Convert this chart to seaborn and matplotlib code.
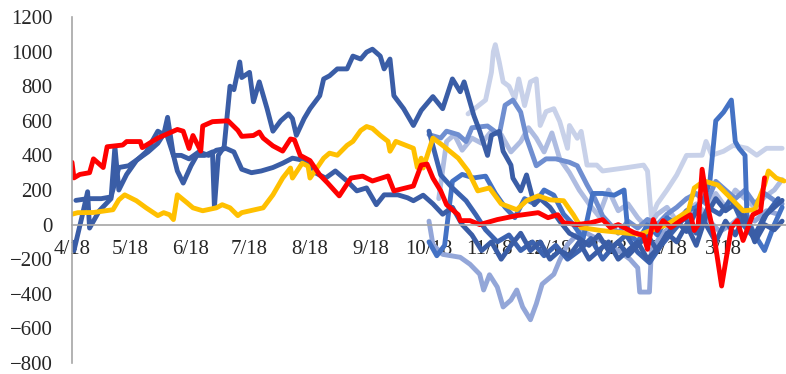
import matplotlib
matplotlib.use("Agg")
import matplotlib.pyplot as plt
import seaborn as sns
import pandas as pd

# x = days after 4/18, y = spread value
tick_days = [0, 30, 61, 91, 122, 153, 183, 214, 244, 275, 306, 334]
tick_labels = ["4/18", "5/18", "6/18", "7/18", "8/18", "9/18",
               "10/18", "11/18", "12/18", "1/18", "2/18", "3/18"]

g_days = [203, 212, 215, 216, 217, 219, 221, 224, 227, 229, 232, 235, 238, 240, 243, 247, 250,
          254, 255, 259, 261, 264, 269, 272, 283, 293, 295, 297, 300, 305, 310, 315, 323, 325,
          328, 334, 339, 346, 351, 356, 364]
g_vals = [640, 720, 880, 1000, 1040, 940, 825, 800, 728, 842, 688, 825, 842, 573, 653, 670, 596,
          441, 573, 499, 539, 344, 344, 310, 327, 344, 310, 40, 120, 200, 287, 400, 401, 481,
          401, 424, 458, 441, 401, 441, 441]

h_days = [188, 192, 196, 200, 205, 210, 215, 220, 225, 230, 234, 238, 242, 246, 250, 255, 260,
          265, 270, 275, 280, 285, 290, 295, 300, 305, 310, 315, 320, 325, 330, 335, 340, 345,
          350, 355, 360, 364]
h_vals = [150, 480, 520, 430, 500, 470, 540, 520, 420, 480, 560, 500, 420, 530, 380, 300, 200,
          120, 50, 200, 80, 120, 40, -20, 60, 100, 20, 80, 120, 60, 180, 100, 200, 150,
          100, 160, 200, 260]

f_days = [183, 185, 190, 199, 204, 209, 211, 214, 218, 221, 225, 228, 231, 235, 238, 241, 247,
          250, 254, 261, 271, 280, 286, 290, 291, 296, 297, 302, 308, 314, 320, 326, 332, 338,
          344, 350, 356, 362]
f_vals = [20, -115, -172, -189, -229, -287, -378, -290, -361, -476, -436, -378, -476, -550, -458,
          -344, -287, -206, -115, -34, -92, -150, -200, -250, -390, -390, -150, -60, 0, 40, 80,
          30, -40, 0, 60, 20, 80, 60]

e_days = [183, 189, 192, 198, 202, 205, 213, 219, 222, 226, 230, 233, 238, 243, 248, 255, 259,
          264, 268, 272, 276, 280, 285, 290, 295, 300, 305, 310, 315, 320, 325, 330, 335, 340,
          345, 350, 355, 360, 364]
e_vals = [520, 500, 540, 520, 480, 560, 570, 520, 690, 720, 650, 500, 340, 380, 380, 360, 340,
          230, 150, 50, 0, -50, 20, -20, 30, 0, 60, 100, 150, 180, 120, 250, 200, 150,
          200, 120, 180, 140, 120]

d_days = [183, 187, 191, 195, 200, 206, 212, 217, 222, 227, 232, 237, 242, 247, 252, 257, 262,
          267, 272, 278, 283, 285, 290, 295, 300, 305, 310, 315, 320, 324, 327, 330, 334, 338,
          340, 342, 345, 346, 350, 355, 360, 364]
d_vals = [-100, -180, -120, 250, 290, 270, 280, 180, 100, 40, 150, 120, 200, 170, 60, 0, -80,
          180, 180, 170, 200, -50, -100, 0, -60, 40, 0, 80, 100, 150, 250, 600, 650, 720,
          480, 440, 400, 40, -60, -150, 0, 100]

c_days = [183, 189, 195, 202, 207, 212, 218, 224, 230, 236, 242, 248, 254, 260, 266, 272, 278,
          284, 290, 296, 302, 308, 314, 320, 326, 332, 338, 344, 350, 356, 362]
c_vals = [540, 287, 212, 138, 57, -30, -100, -60, -150, -100, -180, -120, -200, -150, -80, -200,
          -120, -60, -160, -220, -120, -40, 40, -50, 100, 60, 150, 0, -80, 60, 150]

b_days = [2, 8, 15, 20, 24, 29, 34, 39, 44, 48, 52, 56, 60, 65, 70, 74, 79, 83, 87, 92, 97,
          103, 108, 113, 121, 125, 130, 135, 141, 146, 151, 156, 160, 167, 172, 175, 180, 185,
          190, 195, 200, 205, 210, 215, 220, 225, 230, 235, 240, 245, 250, 255, 260, 265, 270,
          275, 280, 285, 290, 295, 300, 305, 310, 315, 320, 325, 330, 335, 340, 345, 350, 355,
          360, 364]
b_vals = [140, 150, 150, 160, 330, 340, 380, 420, 470, 540, 400, 400, 380, 420, 400, 430, 440,
          420, 320, 300, 310, 330, 355, 384, 367, 298, 269, 310, 252, 195, 212, 115, 172, 172,
          155, 138, 170, 120, 60, 100, 0, -60, -150, -100, -200, -120, -50, -150, -100, -200,
          -150, -180, -100, -200, -150, -100, -200, -150, -100, -200, -140, -60, 20, -40, 80,
          0, -100, 20, -60, 50, -100, 0, -30, 20]

a_days = [0, 1, 5, 8, 9, 14, 20, 22, 24, 28, 33, 38, 44, 47, 49, 52, 54, 57, 61, 64, 68, 72,
          73, 75, 78, 81, 83, 86, 87, 91, 93, 96, 100, 103, 107, 111, 113, 115, 119, 122, 127,
          129, 132, 136, 141, 144, 148, 151, 154, 158, 160, 163, 165, 170, 175, 179, 185, 190,
          195, 199, 201, 206, 209, 213, 215, 219, 221, 225, 226, 230, 233, 237, 240, 245, 250,
          255, 260, 265, 270, 275, 280, 285, 290, 295, 300, 305, 310, 315, 320, 325, 330, 335,
          340, 345, 350, 355, 360, 364]
a_vals = [-100, -150, 40, 190, -20, 80, 150, 450, 200, 290, 370, 420, 540, 520, 620, 400, 310,
          240, 340, 400, 400, 420, 100, 400, 450, 800, 780, 940, 850, 880, 710, 825, 670, 540,
          600, 640, 613, 516, 613, 670, 745, 842, 860, 900, 900, 974, 957, 997, 1014, 974, 900,
          957, 745, 670, 573, 660, 740, 670, 842, 768, 825, 630, 540, 400, 516, 539, 424, 344,
          269, 195, 287, 115, 150, 100, 20, -50, -80, -120, -60, -150, -100, -180, -120, -60,
          -150, -50, -100, 0, -120, 50, 150, 80, 120, 30, -60, 50, 100, 140]

yellow_days = [0, 3, 11, 21, 24, 27, 33, 38, 44, 47, 50, 52, 54, 59, 62, 67, 74, 77, 81, 85,
               87, 98, 103, 108, 112, 113, 118, 121, 122, 129, 132, 136, 141, 144, 148, 151,
               154, 158, 162, 163, 166, 175, 177, 179, 180, 185, 190, 198, 203, 208, 214, 220,
               228, 233, 239, 245, 252, 257, 261, 271, 291, 305, 316, 319, 324, 331, 334, 339,
               344, 350, 355, 357, 361, 365]
yellow_vals = [60, 69, 70, 86, 143, 172, 138, 97, 52, 69, 57, 29, 172, 126, 97, 80, 97, 115,
               97, 52, 69, 97, 172, 269, 327, 269, 355, 338, 269, 384, 413, 401, 458, 481, 544,
               567, 556, 516, 481, 424, 481, 441, 330, 384, 327, 500, 458, 384, 310, 195, 212,
               120, 86, 138, 166, 143, 138, 57, -17, -34, -57, 0, 80, 212, 252, 229, 195, 138,
               80, 86, 229, 310, 269, 252]

red_days = [0, 1, 4, 9, 11, 16, 18, 26, 28, 35, 36, 44, 54, 57, 60, 62, 66, 67, 72, 80, 85,
            87, 93, 96, 98, 103, 108, 112, 114, 117, 122, 127, 131, 137, 143, 149, 154, 162,
            165, 175, 179, 182, 185, 189, 192, 198, 199, 204, 209, 218, 228, 239, 244, 249,
            252, 259, 266, 272, 276, 280, 288, 293, 295, 298, 300, 303, 307, 312, 317, 319,
            321, 323, 326, 329, 333, 338, 341, 344, 349, 353, 355]
red_vals = [360, 270, 290, 300, 380, 330, 450, 460, 480, 480, 445, 500, 550, 540, 440, 515, 425,
            570, 595, 600, 545, 510, 515, 535, 500, 455, 425, 495, 490, 400, 370, 287, 241, 166,
            269, 280, 252, 281, 195, 223, 344, 350, 269, 195, 115, 57, 23, 23, 0, 29, 52, 69,
            40, 57, 11, 0, 11, 29, -17, 0, -46, -63, -143, 29, -34, 23, -17, 23, 57, -34, 0,
            320, 97, -57, -355, -17, 23, -92, 57, 80, 270]

series = [
    (g_days, g_vals, "#C8D1E9"),
    (h_days, h_vals, "#AEBCE1"),
    (f_days, f_vals, "#93A6D8"),
    (e_days, e_vals, "#6F8ED0"),
    (d_days, d_vals, "#4472C4"),
    (c_days, c_vals, "#3C63B0"),
    (b_days, b_vals, "#3A5DA6"),
    (a_days, a_vals, "#3A5DA6"),
    (yellow_days, yellow_vals, "#FFC000"),
    (red_days, red_vals, "#FF0000"),
]

sns.set_style("white")
plt.rcParams["font.family"] = ["Liberation Serif", "DejaVu Serif"]

fig = plt.figure(figsize=(7.86, 3.74), dpi=100)
ax = fig.add_axes([72 / 786, 11 / 374, 714 / 786, 346 / 374])

for days, vals, col in series:
    df = pd.DataFrame({"day": days, "value": vals})
    sns.lineplot(data=df, x="day", y="value", color=col, linewidth=3.5, ax=ax,
                 estimator=None, solid_capstyle="round", solid_joinstyle="round")

ax.set_xlim(0, 366)
ax.set_ylim(-800, 1200)
ax.set_yticks(range(-800, 1201, 200))
ax.set_xticks(tick_days)
ax.set_xticklabels(tick_labels)
ax.set_xlabel("")
ax.set_ylabel("")

for s in ["top", "right"]:
    ax.spines[s].set_visible(False)
ax.spines["bottom"].set_position(("data", 0))
for s in ["left", "bottom"]:
    ax.spines[s].set_color("#A6A6A6")
    ax.spines[s].set_linewidth(1.2)
ax.tick_params(axis="both", which="both", direction="out", length=5, width=1.2,
               color="#A6A6A6", labelsize=15, labelcolor="#262626")
ax.tick_params(axis="x", pad=6)
ax.tick_params(axis="y", pad=9)
ax.grid(False)
ax.patch.set_alpha(0)

fig.savefig("out.png", dpi=100)
